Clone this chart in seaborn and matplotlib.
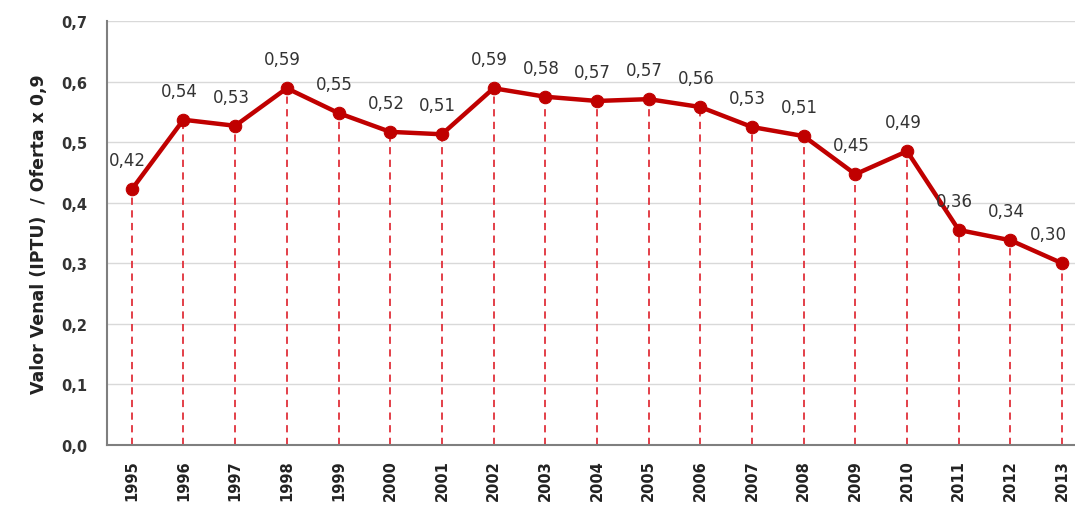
import matplotlib
matplotlib.use("Agg")
import matplotlib.pyplot as plt
import numpy as np
import pandas as pd
import seaborn as sns

# data
years = ["1995", "1996", "1997", "1998", "1999", "2000", "2001", "2002", "2003", "2004",
         "2005", "2006", "2007", "2008", "2009", "2010", "2011", "2012", "2013"]
ratio = [0.422, 0.537, 0.527, 0.589, 0.548, 0.517, 0.513, 0.589, 0.575, 0.568,
         0.571, 0.558, 0.525, 0.510, 0.447, 0.485, 0.355, 0.338, 0.300]
value_labels = ["0,42", "0,54", "0,53", "0,59", "0,55", "0,52", "0,51", "0,59", "0,58", "0,57",
                "0,57", "0,56", "0,53", "0,51", "0,45", "0,49", "0,36", "0,34", "0,30"]
y_ticks = [0.0, 0.1, 0.2, 0.3, 0.4, 0.5, 0.6, 0.7]
y_ticklabels = ["0,0", "0,1", "0,2", "0,3", "0,4", "0,5", "0,6", "0,7"]

df = pd.DataFrame({"pos": np.arange(len(years)), "ratio": ratio})

sns.set_style("white")
plt.rcParams["font.family"] = ["DejaVu Sans"]

fig = plt.figure(figsize=(10.75, 5.06), dpi=100)
ax = fig.add_axes([0.0995, 0.1186, 0.9015, 0.8379])

line_red = "#C00000"

ax.vlines(df["pos"], 0, df["ratio"], colors="#E0303A", linestyles=(0, (4, 3)),
          linewidth=1.3, zorder=2)
sns.lineplot(data=df, x="pos", y="ratio", ax=ax, color=line_red, linewidth=3.2,
             marker="o", markersize=9, markeredgecolor=line_red, zorder=3)

last = len(years) - 1
for x, y, lab in zip(df["pos"], df["ratio"], value_labels):
    dx = -10 if x == last else -3
    ax.annotate(lab, (x, y), xytext=(dx, 21), textcoords="offset points",
                ha="center", va="center", fontsize=12, color="#333333",
                annotation_clip=False)

ax.set_xlim(-0.48, 18.27)
ax.set_ylim(0, 0.7)
ax.set_yticks(y_ticks)
ax.set_yticklabels(y_ticklabels, fontsize=10.5, fontweight="bold", color="#333333")
ax.set_xticks(df["pos"])
ax.set_xticklabels(years, rotation=90, fontsize=10.5, fontweight="bold", color="#222222")
ax.tick_params(axis="both", length=0)
ax.tick_params(axis="y", pad=14)
ax.tick_params(axis="x", pad=10)

ax.yaxis.grid(True, color="#D9D9D9", linewidth=1)
ax.xaxis.grid(False)
ax.set_axisbelow(True)

for side in ["top", "right"]:
    ax.spines[side].set_visible(False)
for side in ["left", "bottom"]:
    ax.spines[side].set_color("#7F7F7F")
    ax.spines[side].set_linewidth(1.5)

ax.set_xlabel("")
ax.set_ylabel("Valor Venal (IPTU)  / Oferta x 0,9", fontsize=12.5, fontweight="bold",
              color="#222222", labelpad=10)

fig.savefig("out.png", dpi=100)
